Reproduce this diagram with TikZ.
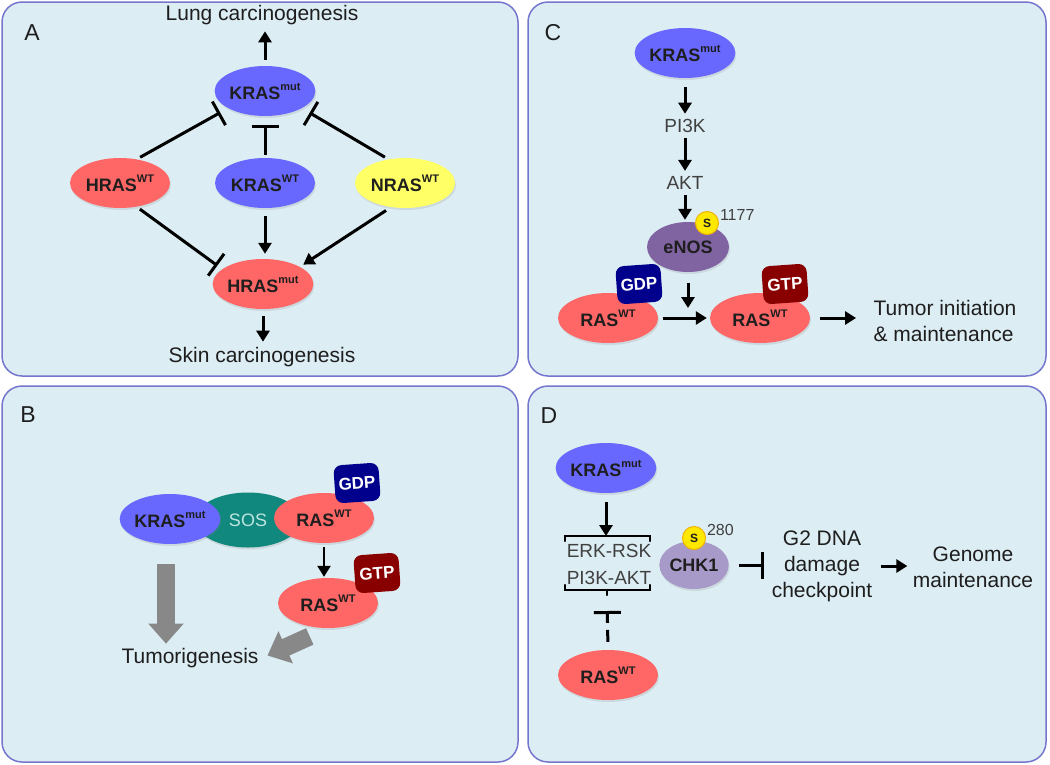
\documentclass[tikz,border=0pt]{standalone}
\usepackage{fontspec}
\setmainfont{Liberation Sans}
\usetikzlibrary{shapes, arrows.meta, shadows, positioning, calc}

\definecolor{panelfill}{RGB}{220,237,243}
\definecolor{panelline}{RGB}{118,118,206}
\definecolor{krasblue}{RGB}{104,104,255}
\definecolor{hrasred}{RGB}{255,102,102}
\definecolor{nrasyellow}{RGB}{255,255,102}
\definecolor{enospurple}{RGB}{128,100,162}
\definecolor{chklilac}{RGB}{168,154,200}
\definecolor{sosteal}{RGB}{16,136,126}
\definecolor{sostext}{RGB}{190,228,224}
\definecolor{gdpblue}{RGB}{0,0,140}
\definecolor{gtpred}{RGB}{136,0,0}
\definecolor{phosyellow}{RGB}{255,232,0}
\definecolor{phosring}{RGB}{240,180,0}
\definecolor{arrowgrey}{RGB}{136,136,136}
\definecolor{textdark}{RGB}{30,30,30}
\definecolor{textgrey}{RGB}{64,64,64}

\newcommand{\sups}[1]{\raisebox{0.5em}{\fontsize{11}{11}\selectfont #1}}

\tikzset{
  panel/.style={draw=panelline, fill=panelfill, line width=1.5pt, rounded corners=20pt},
  letter/.style={font=\fontsize{23}{26}\selectfont, text=textdark},
  blob/.style={ellipse, inner sep=0pt, minimum width=100pt, minimum height=50pt,
    font=\fontsize{18}{20}\selectfont\bfseries, text=textdark,
    drop shadow={opacity=0.18, shadow xshift=1pt, shadow yshift=-2pt}},
  kras/.style={blob, fill=krasblue},
  hras/.style={blob, fill=hrasred},
  nras/.style={blob, fill=nrasyellow},
  nuc/.style={rounded corners=8pt, minimum width=45pt, minimum height=38pt, inner sep=0pt,
    font=\fontsize{17}{18}\selectfont\bfseries, text=white, rotate=4},
  gdp/.style={nuc, fill=gdpblue},
  gtp/.style={nuc, fill=gtpred},
  phos/.style={circle, fill=phosyellow, draw=phosring, line width=1pt, minimum size=23pt,
    inner sep=0pt, font=\fontsize{12}{12}\selectfont\bfseries, text=textdark},
  lbl/.style={font=\fontsize{21}{26}\selectfont, text=textdark, align=center},
  glbl/.style={font=\fontsize{19}{24}\selectfont, text=textgrey},
  small/.style={font=\fontsize{16}{18}\selectfont, text=textgrey},
  act/.style={-{Triangle[length=11pt,width=13pt]}, line width=3pt},
  inh/.style={-{Bar[width=27pt]}, line width=3pt},
  big/.style={-{Triangle[length=20pt,width=34pt]}, line width=18pt, draw=arrowgrey},
  brk/.style={line width=2.2pt, line cap=round}
}

\begin{document}
\begin{tikzpicture}[x=1pt, y=-1pt]
\useasboundingbox (0,0) rectangle (1050,764);

% panels
\draw[panel] (2,2) rectangle (518,376);
\draw[panel] (528,2) rectangle (1046,376);
\draw[panel] (2,386) rectangle (518,762);
\draw[panel] (528,386) rectangle (1046,762);

\node[letter] (labA) at (32,33) {A};
\node[letter] (labC) at (553,33) {C};
\node[letter] (labB) at (28,415) {B};
\node[letter] (labD) at (549,416) {D};

% A
\node[lbl] (lungA) at (262,15) {Lung carcinogenesis};
\node[kras] (kmutA) at (265,91) {KRAS\sups{mut}};
\node[hras] (hwtA) at (120,183) {HRAS\sups{WT}};
\node[kras] (kwtA) at (265,183) {KRAS\sups{WT}};
\node[nras] (nwtA) at (405,183) {NRAS\sups{WT}};
\node[hras] (hmutA) at (263,284) {HRAS\sups{mut}};
\node[lbl] (skinA) at (262,357) {Skin carcinogenesis};

\draw[act, shorten <=6pt, shorten >=3pt] (kmutA.north) -- (kmutA.north |- lungA.south);
\draw[inh, shorten <=4pt, shorten >=9pt] (hwtA.55) -- (kmutA.205);
\draw[inh, shorten <=3pt, shorten >=9pt] (kwtA.north) -- (kmutA.south);
\draw[inh, shorten <=4pt, shorten >=9pt] (nwtA.125) -- (kmutA.-25);
\draw[inh, shorten <=4pt, shorten >=6pt] (hwtA.-55) -- (hmutA.160);
\draw[act, shorten <=8pt, shorten >=5pt] (kwtA.south) -- (kwtA.south |- hmutA.north);
\draw[act, shorten <=6pt, shorten >=4pt] (nwtA.-120) -- (hmutA.25);
\draw[act, shorten <=7pt, shorten >=2pt] (hmutA.south) -- (hmutA.south |- skinA.north);

% C
\node[kras] (kmutC) at (685,53) {KRAS\sups{mut}};
\node[glbl] (pi3kC) at (685,126) {PI3K};
\node[glbl] (aktC) at (685,183) {AKT};
\node[blob, fill=enospurple, minimum width=82pt, minimum height=50pt] (enosC) at (688,247) {eNOS};
\node[phos] (sC) at (707,223) {S};
\node[small, right=1pt of sC.north east, anchor=west] (resC) {1177};
\node[hras] (rasgdpC) at (608,318) {RAS\sups{WT}};
\node[gdp] (gdpC) at (639,284) {GDP};
\node[hras] (rasgtpC) at (760,318) {RAS\sups{WT}};
\node[gtp] (gtpC) at (785,284) {GTP};
\node[lbl, align=left] (tumC) at (945,321) {Tumor initiation\\\& maintenance};

\draw[act, shorten <=9pt, shorten >=2pt] (kmutC.south) -- (pi3kC.north);
\draw[act, shorten <=2pt, shorten >=2pt] (pi3kC.south) -- (aktC.north);
\draw[act, shorten <=2pt, shorten >=2pt] (aktC.south) -- (aktC.south |- enosC.north);
\draw[act, shorten <=5pt, shorten >=3pt] (rasgdpC.east) -- coordinate (midC) (rasgtpC.west);
\draw[act, shorten <=11pt, shorten >=10pt] (enosC.south) -- (enosC.south |- midC);
\draw[act, shorten <=10pt, shorten >=14pt] (rasgtpC.east) -- (rasgtpC.east -| tumC.west);

% B
\node[blob, fill=sosteal, text=sostext, font=\fontsize{18}{20}\selectfont, minimum width=106pt, minimum height=55pt] (sosB) at (248,520) {SOS};
\node[kras] (kmutB) at (170,519) {KRAS\sups{mut}};
\node[hras] (rastopB) at (324,518) {RAS\sups{WT}};
\node[gdp] (gdpB) at (357,483) {GDP};
\node[hras] (rasbotB) at (328,603) {RAS\sups{WT}};
\node[gtp] (gtpB) at (377,573) {GTP};
\node[lbl] (tumB) at (190,658) {Tumorigenesis};

\draw[act, line width=2.4pt, shorten <=4pt, shorten >=1pt] (rastopB.south) -- (rastopB.south |- rasbotB.north);
\draw[big, shorten <=20pt, shorten >=1pt] ([xshift=-4pt]kmutB.south) -- ([xshift=-4pt]kmutB.south |- tumB.north);
\draw[big, shorten <=20pt, shorten >=6pt] (rasbotB.south) -- (tumB.east);

% D
\node[kras] (kmutD) at (606,468) {KRAS\sups{mut}};
\node[glbl] (erkD) at (609,551) {ERK-RSK};
\node[glbl] (pikD) at (609,578) {PI3K-AKT};
\node[hras] (raswtD) at (608,675) {RAS\sups{WT}};
\node[blob, fill=chklilac, minimum width=68pt, minimum height=48pt] (chkD) at (694,565) {CHK1};
\node[phos] (sD) at (694,538) {S};
\node[small, right=1pt of sD.north east, anchor=west] (resD) {280};
\node[lbl] (g2D) at (822,566) {G2 DNA\\damage\\checkpoint};
\node[lbl] (genD) at (973,567) {Genome\\maintenance};

\draw[brk] (565,541) -- (565,536) -- (650,536) -- (650,541);
\draw[brk] (565,585) -- (565,590) -- (650,590) -- (650,585);
\draw[brk] (607,590) -- (607,595);
\coordinate (brtopD) at (606,536);
\coordinate (brbotD) at (607,595);

\draw[act, shorten <=9pt, shorten >=0pt] (kmutD.south) -- (brtopD);
\draw[inh, dash pattern=on 12pt off 7pt, shorten <=8pt, shorten >=16pt] (raswtD.north) -- (brbotD);
\draw[inh, shorten <=10pt, shorten >=4pt] (chkD.east) -- (chkD.east -| g2D.west);
\draw[act, shorten <=5pt, shorten >=2pt] (g2D.east) -- (g2D.east -| genD.west);

\end{tikzpicture}
\end{document}
